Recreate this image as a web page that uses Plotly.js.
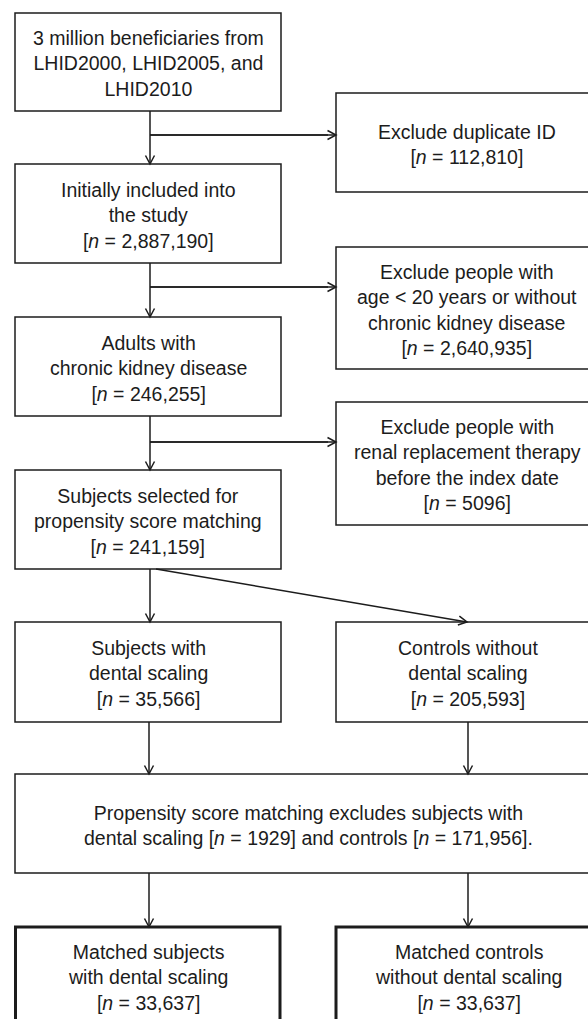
<!DOCTYPE html>
<html>
<head>
<meta charset="utf-8">
<script src="https://cdn.plot.ly/plotly-3.0.1.min.js"></script>
<style>html,body{margin:0;padding:0;background:#fff;}#chart{width:588px;height:1019px;}</style>
</head>
<body>
<div id="chart"></div>
<script>
// ---- Flowchart content (data) ----
const mainSteps = [
  "3 million beneficiaries from<br>LHID2000, LHID2005, and<br>LHID2010",
  "Initially included into<br>the study",
  "Adults with<br>chronic kidney disease",
  "Subjects selected for<br>propensity score matching"
];
const mainCounts = [null, "2,887,190", "246,255", "241,159"];

const exclusionSteps = [
  "Exclude duplicate ID",
  "Exclude people with<br>age &lt; 20 years or without<br>chronic kidney disease",
  "Exclude people with<br>renal replacement therapy<br>before the index date"
];
const exclusionCounts = ["112,810", "2,640,935", "5096"];

const groupSteps = ["Subjects with<br>dental scaling", "Controls without<br>dental scaling"];
const groupCounts = ["35,566", "205,593"];

const matchingExcludedCounts = ["1929", "171,956"];

const matchedSteps = ["Matched subjects<br>with dental scaling", "Matched controls<br>without dental scaling"];
const matchedCounts = ["33,637", "33,637"];

// ---- Layout geometry (pixel positions) ----
const W = 588, H = 1019;
const LEFT = {x0: 15, x1: 281};
const RIGHT = {x0: 336, x1: 602};
const mainY = [[13, 111], [164, 263], [317, 416], [470, 569]];
const exclY = [[93, 192], [247, 369], [402, 525]];
const groupY = [622, 722];
const matchY = [774, 873];
const matchedY = [927, 1040];
const trunkX = 150;
const branchY = [135, 287, 442];
const rightColX = 468;

const LINE = "#1c1c1c";
const TEXT = "#1c1c1c";
const FONT = {family: "Liberation Sans, Arial, sans-serif", size: 19.5, color: TEXT};

const shapes = [];
const annotations = [];

function nText(c) { return "[<i>n</i> = " + c + "]"; }

function box(x0, x1, y0, y1, text, w) {
  shapes.push({type: "rect", xref: "x", yref: "y", x0: x0, x1: x1, y0: y0, y1: y1,
    line: {color: LINE, width: w || 1.5}, fillcolor: "#ffffff", layer: "below"});
  annotations.push({xref: "x", yref: "y", x: (x0 + Math.min(x1, 602)) / 2, y: (y0 + Math.min(y1, 1019)) / 2 + 1.5,
    text: text, showarrow: false, font: FONT, align: "center", xanchor: "center", yanchor: "middle"});
}
function boxAt(x0, x1, y0, y1, cx, cy, text, w) {
  shapes.push({type: "rect", xref: "x", yref: "y", x0: x0, x1: x1, y0: y0, y1: y1,
    line: {color: LINE, width: w || 1.5}, fillcolor: "#ffffff", layer: "below"});
  annotations.push({xref: "x", yref: "y", x: cx, y: cy,
    text: text, showarrow: false, font: FONT, align: "center", xanchor: "center", yanchor: "middle"});
}

function arrow(xa, ya, xb, yb) {
  shapes.push({type: "line", xref: "x", yref: "y", x0: xa, y0: ya, x1: xb, y1: yb,
    line: {color: LINE, width: 1.5}});
  const dx = xb - xa, dy = yb - ya, L = Math.hypot(dx, dy);
  const ux = dx / L, uy = dy / L, px = -uy, py = ux;
  const len = 8.5, hw = 4.5;
  const bx = xb - ux * len, by = yb - uy * len;
  const p1 = [bx + px * hw, by + py * hw], p2 = [bx - px * hw, by - py * hw];
  shapes.push({type: "path", xref: "x", yref: "y",
    path: `M ${p1[0]} ${p1[1]} L ${xb} ${yb} L ${p2[0]} ${p2[1]}`,
    line: {color: LINE, width: 1.5}});
}
function seg(xa, ya, xb, yb) {
  shapes.push({type: "line", xref: "x", yref: "y", x0: xa, y0: ya, x1: xb, y1: yb,
    line: {color: LINE, width: 1.5}});
}

// main column
mainSteps.forEach((t, i) => {
  const txt = mainCounts[i] ? t + "<br>" + nText(mainCounts[i]) : t;
  box(LEFT.x0, LEFT.x1, mainY[i][0], mainY[i][1], txt);
});
// exclusion column
exclusionSteps.forEach((t, i) => {
  boxAt(RIGHT.x0, RIGHT.x1, exclY[i][0], exclY[i][1], rightColX - 1, (exclY[i][0] + exclY[i][1]) / 2 + 1.5,
    t + "<br>" + nText(exclusionCounts[i]));
});
// trunk arrows and branches
for (let i = 0; i < 3; i++) {
  arrow(trunkX, mainY[i][1], trunkX, mainY[i + 1][0]);
  seg(trunkX, branchY[i], RIGHT.x0 - 8, branchY[i]);
  arrow(trunkX, branchY[i], RIGHT.x0, branchY[i]);
}
// split into groups
arrow(trunkX, mainY[3][1], trunkX, groupY[0]);
arrow(trunkX + 6, mainY[3][1], rightColX - 1, groupY[0]);
boxAt(LEFT.x0, LEFT.x1, groupY[0], groupY[1], 148, (groupY[0] + groupY[1]) / 2 + 1.5,
  groupSteps[0] + "<br>" + nText(groupCounts[0]));
boxAt(RIGHT.x0, RIGHT.x1, groupY[0], groupY[1], rightColX, (groupY[0] + groupY[1]) / 2 + 1.5,
  groupSteps[1] + "<br>" + nText(groupCounts[1]));
// to matching
arrow(149, groupY[1], 149, matchY[0]);
arrow(rightColX, groupY[1], rightColX, matchY[0]);
boxAt(LEFT.x0, RIGHT.x1, matchY[0], matchY[1], 308.5, (matchY[0] + matchY[1]) / 2 + 1.5,
  "Propensity score matching excludes subjects with<br>dental scaling " + nText(matchingExcludedCounts[0]) +
  " and controls " + nText(matchingExcludedCounts[1]) + ".");
// to matched
arrow(149, matchY[1], 149, matchedY[0]);
arrow(rightColX, matchY[1], rightColX, matchedY[0]);
boxAt(LEFT.x0 + 0.5, 280, matchedY[0], matchedY[1], 148, 977.5,
  matchedSteps[0] + "<br>" + nText(matchedCounts[0]), 3);
boxAt(RIGHT.x0, RIGHT.x1, matchedY[0], matchedY[1], rightColX, 977.5,
  matchedSteps[1] + "<br>" + nText(matchedCounts[1]), 3);

const layout = {
  width: W, height: H,
  margin: {l: 0, r: 0, t: 0, b: 0, pad: 0},
  paper_bgcolor: "#ffffff", plot_bgcolor: "#ffffff",
  xaxis: {range: [0, W], visible: false, fixedrange: true},
  yaxis: {range: [H, 0], visible: false, fixedrange: true},
  showlegend: false,
  shapes: shapes,
  annotations: annotations
};
Plotly.newPlot("chart", [], layout, {staticPlot: true, displayModeBar: false});
</script>
</body>
</html>
